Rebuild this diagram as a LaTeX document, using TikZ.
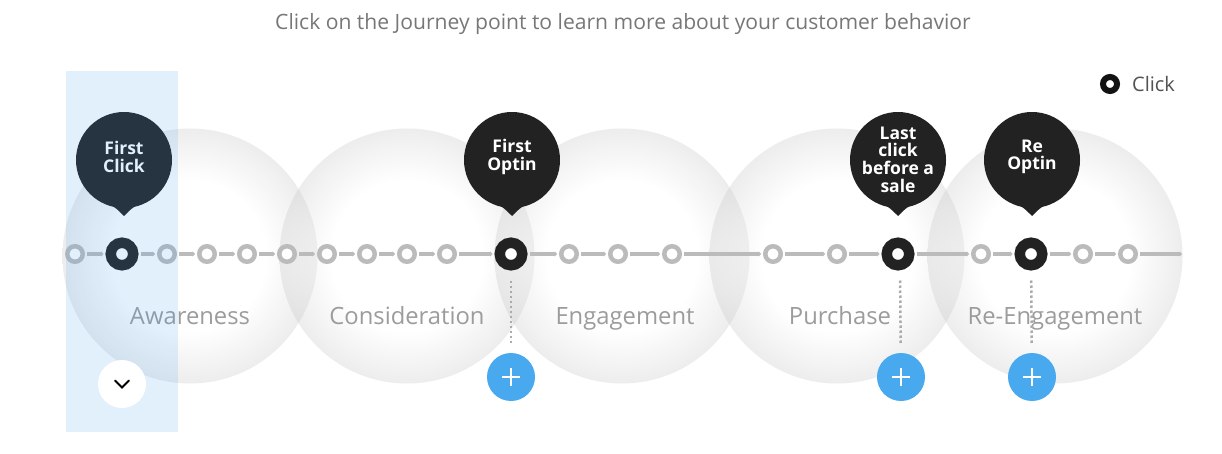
\documentclass[tikz,border=0pt]{standalone}
\usepackage{fontspec}
\setmainfont{Open Sans}
\usetikzlibrary{arrows.meta}
\definecolor{bubg}{HTML}{C8C8C8}
\definecolor{ptgray}{HTML}{BBBBBB}
\definecolor{pinblack}{HTML}{222222}
\definecolor{plusblue}{HTML}{48A9EE}
\definecolor{labgray}{HTML}{9C9C9C}
\definecolor{titlegray}{HTML}{777777}
\definecolor{hilite}{RGB}{62,152,241}
\pgfdeclareradialshading{bubble}{\pgfpoint{0bp}{0bp}}{color(0bp)=(white); color(15bp)=(white); color(25bp)=(bubg); color(50bp)=(bubg)}
\tikzset{
  smallpt/.style={circle, draw=ptgray, line width=4.5pt, fill=white, minimum size=15.5pt, inner sep=0pt},
  bigpt/.style={circle, draw=pinblack, line width=10.5pt, fill=white, minimum size=22.5pt, inner sep=0pt},
  seg/.style={draw=ptgray, line width=3.5pt, shorten <=2pt, shorten >=2pt, -{Triangle[length=2.5pt,width=5pt]}},
  stagelabel/.style={font=\fontsize{23.8}{26}\selectfont, text=labgray, anchor=base},
  pintext/.style={font=\bfseries\fontsize{17.5}{17.6}\selectfont, text=white, align=center, inner sep=0pt},
  plusbtn/.style={circle, fill=plusblue, minimum size=48pt, inner sep=0pt},
  dotline/.style={draw=black!33, line width=2.5pt, dash pattern=on 2.5pt off 2.5pt, shorten <=10pt, shorten >=8pt},
}
\newcommand{\drawpin}[2]{%
  \fill[pinblack] (#1,#2) circle (48);
  \fill[pinblack] (#1-30,#2+37.5) .. controls (#1-10,#2+46) .. (#1,#2+56) .. controls (#1+10,#2+46) .. (#1+30,#2+37.5) -- cycle;
}
\newcommand{\plussign}[1]{%
  \draw[white, line width=2.5pt] ([xshift=-9pt]#1.center) -- ([xshift=9pt]#1.center);
  \draw[white, line width=2.5pt] ([yshift=-9pt]#1.center) -- ([yshift=9pt]#1.center);
}
\begin{document}
\begin{tikzpicture}[x=1pt,y=-1pt]
\useasboundingbox[fill=white] (0,0) rectangle (1222,454);

% title
\node[font=\fontsize{21.1}{24}\selectfont, text=titlegray] (title) at (623,24) {Click on the Journey point to learn more about your customer behavior};

% legend
\node[circle, draw=black!93, line width=6pt, fill=white, minimum size=14pt, inner sep=0pt] (legring) at (1110,84) {};
\node[font=\fontsize{20}{24}\selectfont, text=black!68, anchor=west, inner sep=0pt] (legtext) at (1132,84) {Click};

% background bubbles
\foreach \cx in {190,407,622,837,1055}{
  \shade[shading=bubble, opacity=0.32] (\cx,256) circle (127.5);
}

% stage labels
\node[stagelabel] (l1) at (190,324) {Awareness};
\node[stagelabel] (l2) at (407,324) {Consideration};
\node[stagelabel] (l3) at (625,324) {Engagement};
\node[stagelabel] (l4) at (840,324) {Purchase};
\node[stagelabel] (l5) at (1055,324) {Re-Engagement};

% journey points
\node[smallpt] (p1) at (75,254) {};
\node[bigpt] (p2) at (122,254) {};
\node[smallpt] (p3) at (167,254) {};
\node[smallpt] (p4) at (207,254) {};
\node[smallpt] (p5) at (247,254) {};
\node[smallpt] (p6) at (287,254) {};
\node[smallpt] (p7) at (327,254) {};
\node[smallpt] (p8) at (367,254) {};
\node[smallpt] (p9) at (407,254) {};
\node[smallpt] (p10) at (447,254) {};
\node[bigpt] (p11) at (511,254) {};
\node[smallpt] (p12) at (569,254) {};
\node[smallpt] (p13) at (618,254) {};
\node[smallpt] (p14) at (672,254) {};
\node[smallpt] (p15) at (773,254) {};
\node[smallpt] (p16) at (837,254) {};
\node[bigpt] (p17) at (898,254) {};
\node[smallpt] (p18) at (981,254) {};
\node[bigpt] (p19) at (1031,254) {};
\node[smallpt] (p20) at (1083,254) {};
\node[smallpt] (p21) at (1128,254) {};
\coordinate (pend) at (1182,254);

\foreach \a/\b in {p1/p2,p2/p3,p3/p4,p4/p5,p5/p6,p6/p7,p7/p8,p8/p9,p9/p10,p10/p11,p11/p12,p12/p13,p13/p14,p14/p15,p15/p16,p16/p17,p17/p18,p18/p19,p19/p20,p20/p21}{
  \draw[seg] (\a) -- (\b);
}
\draw[seg, shorten >=0pt] (p21) -- (pend);

% pins
\drawpin{124}{160}
\node[pintext] (pin1) at (124,157) {First\\Click};
\drawpin{512}{160}
\node[pintext] (pin2) at (512,157) {First\\Optin};
\drawpin{898}{160}
\node[pintext] (pin3) at (898,159.5) {Last\\click\\before a\\sale};
\drawpin{1032}{160}
\node[pintext] (pin4) at (1032,157) {Re\\Optin};

% plus buttons
\node[plusbtn] (b1) at (511,377) {};
\node[plusbtn] (b2) at (901,377) {};
\node[plusbtn] (b3) at (1032,377) {};
\plussign{b1}
\plussign{b2}
\plussign{b3}
\draw[dotline] (p11) -- (b1);
\draw[dotline] (p17.south) ++(2,0) coordinate (d2s) (d2s) -- (b2);
\draw[dotline] (p19) -- (b3);

% highlight column
\fill[hilite, opacity=0.145] (66,71) rectangle (178,432);

% chevron button
\node[circle, fill=white, minimum size=48pt, inner sep=0pt] (chev) at (122,384) {};
\draw[black, line width=2pt, line cap=round, line join=miter] ([xshift=-7pt,yshift=3.5pt]chev.center) -- ([yshift=-3.5pt]chev.center) -- ([xshift=7pt,yshift=3.5pt]chev.center);
\end{tikzpicture}
\end{document}
